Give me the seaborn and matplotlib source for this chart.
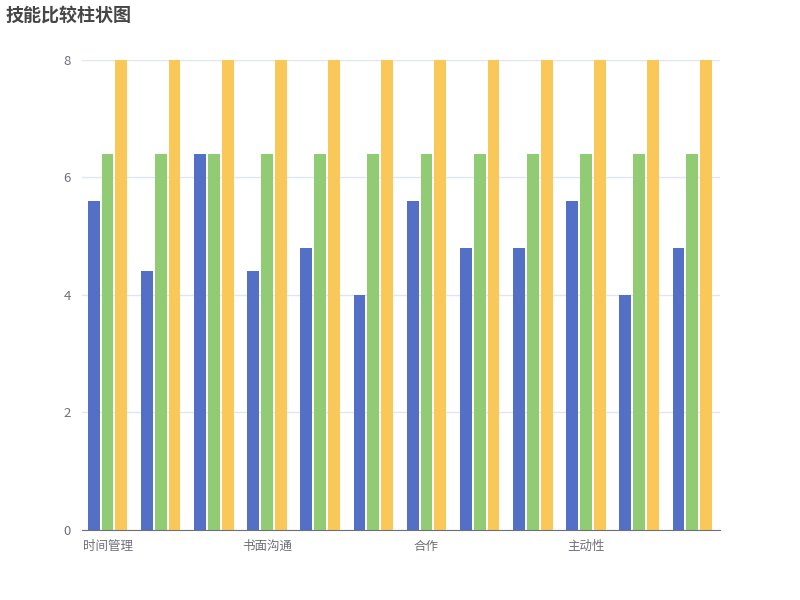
import pandas as pd
import matplotlib.pyplot as plt
import seaborn as sns

# 数据
categories = ['时间管理', '口头沟通', '团队领导', '书面沟通', '解决问题', '创新思维',
              '合作', '适应能力', '决策能力', '主动性', '压力管理', '批判性思维']
series_names = ['自评', '平均', '满分']
vals_self = [5.6, 4.4, 6.4, 4.4, 4.8, 4.0, 5.6, 4.8, 4.8, 5.6, 4.0, 4.8]
vals_avg = [6.4] * 12
vals_max = [8] * 12
colors = ['#5470c6', '#91cc75', '#fac858']

df = pd.DataFrame({
    'skill': categories * 3,
    'series': [series_names[0]] * 12 + [series_names[1]] * 12 + [series_names[2]] * 12,
    'value': vals_self + vals_avg + vals_max,
})

sns.set_style('white')
plt.rcParams['font.family'] = ['Noto Sans CJK SC', 'DejaVu Sans']

fig = plt.figure(figsize=(8, 6), dpi=100)
ax = fig.add_axes([0.1025, 0.1167, 0.7975, 0.7833])

sns.barplot(data=df, x='skill', y='value', hue='series', palette=colors,
            saturation=1, width=0.78, gap=0.15, ax=ax, legend=False, edgecolor='none')

ax.set_xlim(-0.48, 11.52)
ax.set_ylim(0, 8)
ax.set_yticks([0, 2, 4, 6, 8])
ax.yaxis.grid(True, color='#e0e6f1', linewidth=1)
ax.set_axisbelow(True)
ax.tick_params(axis='y', length=0, labelsize=9.5, labelcolor='#6e7079', pad=8)

# 类目轴: 每隔 3 个显示一个标签
ax.set_xticks([-0.48, 2.52, 5.52, 8.52, 11.52])
ax.set_xticklabels([])
ax.set_xticks([0, 3, 6, 9], minor=True)
ax.set_xticklabels([categories[i] for i in [0, 3, 6, 9]], minor=True)
ax.tick_params(axis='x', which='major', length=5, color='#6e7079', width=1)
ax.tick_params(axis='x', which='minor', length=0, labelsize=9, labelcolor='#6e7079', pad=7)

for s in ['top', 'right', 'left']:
    ax.spines[s].set_visible(False)
ax.spines['bottom'].set_color('#6e7079')
ax.set_xlabel('')
ax.set_ylabel('')

fig.text(0.0075, 0.975, '技能比较柱状图', fontsize=13, fontweight='bold',
         color='#464646', va='center', ha='left')

fig.savefig('out.png', dpi=100)
